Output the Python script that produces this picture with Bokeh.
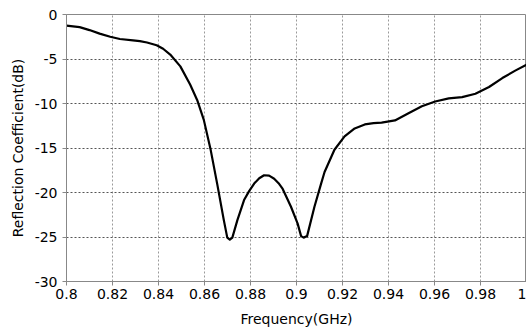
from bokeh.plotting import figure
from bokeh.embed import file_html
from bokeh.resources import INLINE
from bokeh.models import FixedTicker, Range1d

# Frequency (GHz) and reflection coefficient (dB)
freq = [0.8000, 0.8057, 0.8100, 0.8144, 0.8190, 0.8232, 0.8289, 0.8319, 0.8350, 0.8392, 0.8420,
        0.8451, 0.8495, 0.8538, 0.8568, 0.8597, 0.8626, 0.8655, 0.8684, 0.8699,
        0.8710, 0.8721, 0.8743, 0.8772, 0.8794, 0.8816, 0.8838, 0.8859, 0.8881,
        0.8903, 0.8922, 0.8940, 0.8976,
        0.9005, 0.9020, 0.9031, 0.9046, 0.9078, 0.9107, 0.9122, 0.9165, 0.9209,
        0.9253, 0.9297, 0.9335, 0.9370, 0.9428, 0.9487, 0.9545, 0.9603, 0.9662,
        0.9720, 0.9778, 0.9837, 0.9895, 0.9953, 1.0000]
s11 = [-1.24, -1.42, -1.75, -2.15, -2.50, -2.75, -2.90, -3.00, -3.15, -3.45, -3.85,
       -4.50, -5.83, -7.90, -9.60, -11.84, -15.10, -19.00, -23.10, -25.07,
       -25.30, -25.07, -23.10, -20.85, -19.85, -19.00, -18.40, -18.06, -18.10,
       -18.45, -18.95, -19.60, -21.60,
       -23.50, -24.90, -25.07, -24.90, -21.60, -19.00, -17.70, -15.20, -13.70,
       -12.80, -12.35, -12.20, -12.15, -11.90, -11.10, -10.30, -9.77, -9.43,
       -9.28, -8.90, -8.15, -7.14, -6.28, -5.64]

x_ticks = [0.8, 0.82, 0.84, 0.86, 0.88, 0.9, 0.92, 0.94, 0.96, 0.98, 1.0]
x_tick_text = ["0.8", "0.82", "0.84", "0.86", "0.88", "0.9", "0.92", "0.94", "0.96", "0.98", "1"]
y_ticks = [-30, -25, -20, -15, -10, -5, 0]
y_tick_text = ["-30", "-25", "-20", "-15", "-10", "-5", "0"]

FONT = "DejaVu Sans"

p = figure(width=526, height=332, output_backend="svg", toolbar_location=None,
           x_range=Range1d(0.8, 1.0), y_range=Range1d(-30, 0),
           min_border_left=66, min_border_right=0, min_border_top=14, min_border_bottom=51)
p.outline_line_color = "#888888"
p.outline_line_width = 1
p.background_fill_color = "white"
p.border_fill_color = "white"

p.line(freq, s11, line_color="black", line_width=2.2, line_join="round")

for ax in (p.xaxis[0], p.yaxis[0]):
    ax.axis_line_color = "#888888"
    ax.major_tick_line_color = "#888888"
    ax.major_tick_out = 4
    ax.major_tick_in = 0
    ax.minor_tick_line_color = None
    ax.major_label_text_font = FONT
    ax.major_label_text_font_size = "14px"
    ax.major_label_text_color = "black"
    ax.axis_label_text_font = FONT
    ax.axis_label_text_font_size = "14px"
    ax.axis_label_text_font_style = "normal"
    ax.axis_label_text_color = "black"

p.xaxis.ticker = FixedTicker(ticks=x_ticks)
p.yaxis.ticker = FixedTicker(ticks=y_ticks)
p.xaxis.major_label_overrides = dict(zip(x_ticks, x_tick_text))
p.yaxis.major_label_overrides = dict(zip(y_ticks, y_tick_text))
p.xaxis.axis_label = "Frequency(GHz)"
p.yaxis.axis_label = "Reflection Coefficient(dB)"
p.xaxis.major_label_standoff = 3
p.yaxis.major_label_standoff = 5
p.xaxis.axis_label_standoff = 9
p.yaxis.axis_label_standoff = 6

p.xgrid.grid_line_color = "#9a9a9a"
p.xgrid.grid_line_dash = "2 2"
p.xgrid.grid_line_width = 1
p.ygrid.grid_line_color = "#555555"
p.ygrid.grid_line_dash = "2 2"
p.ygrid.grid_line_width = 1

open("out.html", "w").write(file_html(p, INLINE))
